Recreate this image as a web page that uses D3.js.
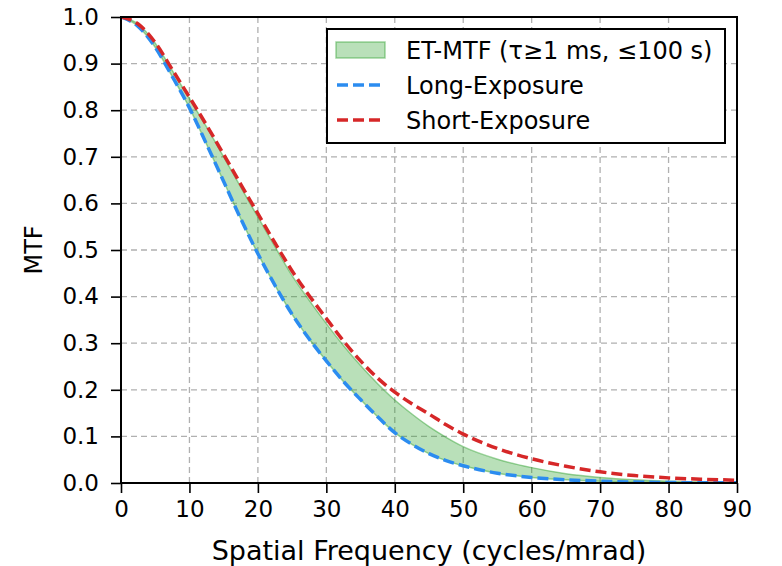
<!DOCTYPE html>
<html>
<head>
<meta charset="utf-8">
<script src="https://cdn.jsdelivr.net/npm/d3@7"></script>
<style>
  html, body { margin: 0; padding: 0; background: #fff; }
  svg { display: block; font-family: "DejaVu Sans", sans-serif; }
</style>
</head>
<body>
<svg id="chart" width="782" height="566"></svg>
<script>
// ---- data ----
const freq      = [0, 2.5, 5, 7.5, 10, 12.5, 15, 17.5, 20, 22.5, 25, 27.5, 30, 32.5, 35, 37.5, 40, 42.5, 45, 47.5, 50, 55, 60, 65, 70, 75, 80, 85, 90];
const longExp   = [1.0, 0.98, 0.935, 0.872, 0.805, 0.727, 0.647, 0.567, 0.492, 0.424, 0.362, 0.309, 0.262, 0.218, 0.179, 0.142, 0.108, 0.083, 0.063, 0.048, 0.037, 0.021, 0.012, 0.007, 0.004, 0.002, 0.001, 0.0006, 0.0003];
const shortExp  = [1.0, 0.985, 0.945, 0.887, 0.828, 0.768, 0.705, 0.641, 0.578, 0.515, 0.455, 0.402, 0.353, 0.305, 0.262, 0.225, 0.195, 0.170, 0.148, 0.125, 0.105, 0.074, 0.052, 0.036, 0.024, 0.016, 0.011, 0.008, 0.006];
const etUpper   = [1.0, 0.985, 0.944, 0.885, 0.825, 0.764, 0.700, 0.635, 0.571, 0.507, 0.445, 0.392, 0.342, 0.295, 0.252, 0.213, 0.178, 0.148, 0.121, 0.098, 0.078, 0.051, 0.033, 0.020, 0.012, 0.007, 0.004, 0.002, 0.001];
const etLower   = longExp;
const xTicks    = [0, 10, 20, 30, 40, 50, 60, 70, 80, 90];
const yTicks    = [0.0, 0.1, 0.2, 0.3, 0.4, 0.5, 0.6, 0.7, 0.8, 0.9, 1.0];
const legendLabels = ["ET-MTF (τ≥1 ms, ≤100 s)", "Long-Exposure", "Short-Exposure"];

// ---- layout ----
const svg = d3.select("#chart");
const L = 121, R = 737, T = 17, B = 483;
const x = d3.scaleLinear().domain([0, 90]).range([L, R]);
const y = d3.scaleLinear().domain([0, 1]).range([B, T]);

const blue = "#2b8cf0", red = "#d62728", green = "#2ca02c";

svg.append("defs").append("clipPath").attr("id", "clip")
  .append("rect").attr("x", L).attr("y", T).attr("width", R - L).attr("height", B - T);

// grid
const grid = svg.append("g").attr("stroke", "#b0b0b0").attr("stroke-width", 1.3).attr("stroke-dasharray", "6,4");
xTicks.forEach(t => grid.append("line").attr("x1", x(t)).attr("x2", x(t)).attr("y1", T).attr("y2", B));
yTicks.forEach(t => grid.append("line").attr("x1", L).attr("x2", R).attr("y1", y(t)).attr("y2", y(t)));

const pts = freq.map((f, i) => ({ f, lo: etLower[i], hi: etUpper[i], le: longExp[i], se: shortExp[i] }));
const plot = svg.append("g").attr("clip-path", "url(#clip)");

plot.append("path").datum(pts)
  .attr("d", d3.area().x(d => x(d.f)).y0(d => y(d.lo)).y1(d => y(d.hi)).curve(d3.curveMonotoneX))
  .attr("fill", green).attr("fill-opacity", 0.33)
  .attr("stroke", green).attr("stroke-opacity", 0.45).attr("stroke-width", 1.5);

plot.append("path").datum(pts)
  .attr("d", d3.line().x(d => x(d.f)).y(d => y(d.le)).curve(d3.curveMonotoneX))
  .attr("fill", "none").attr("stroke", blue).attr("stroke-width", 3.5).attr("stroke-dasharray", "11,5");

plot.append("path").datum(pts)
  .attr("d", d3.line().x(d => x(d.f)).y(d => y(d.se)).curve(d3.curveMonotoneX))
  .attr("fill", "none").attr("stroke", red).attr("stroke-width", 3.5).attr("stroke-dasharray", "11,5");

// axes
const xAxis = svg.append("g").attr("transform", `translate(0,${B})`)
  .call(d3.axisBottom(x).tickValues(xTicks).tickFormat(d3.format("d")).tickSize(10).tickPadding(8));
const yAxis = svg.append("g").attr("transform", `translate(${L},0)`)
  .call(d3.axisLeft(y).tickValues(yTicks).tickFormat(d3.format(".1f")).tickSize(10).tickPadding(12));
[xAxis, yAxis].forEach(a => {
  a.select(".domain").remove();
  a.selectAll("line").attr("stroke", "#000").attr("stroke-width", 1.6);
  a.selectAll("text").attr("fill", "#000").style("font-size", "23px").style("font-family", "DejaVu Sans");
});

// frame
svg.append("rect").attr("x", L).attr("y", T).attr("width", R - L).attr("height", B - T)
  .attr("fill", "none").attr("stroke", "#000").attr("stroke-width", 2);

// axis labels
svg.append("text").attr("x", 429).attr("y", 560).attr("text-anchor", "middle")
  .style("font-size", "27px").text("Spatial Frequency (cycles/mrad)");
svg.append("text").attr("transform", `translate(42,${(T + B) / 2}) rotate(-90)`).attr("text-anchor", "middle")
  .style("font-size", "24px").text("MTF");

// legend
const lg = svg.append("g");
lg.append("rect").attr("x", 327).attr("y", 29).attr("width", 398).attr("height", 114)
  .attr("fill", "#fff").attr("stroke", "#000").attr("stroke-width", 2);
const rows = [50, 85, 120];
lg.append("rect").attr("x", 336).attr("y", rows[0] - 8).attr("width", 49).attr("height", 16)
  .attr("fill", green).attr("fill-opacity", 0.33).attr("stroke", green).attr("stroke-opacity", 0.45).attr("stroke-width", 1.5);
[[blue, rows[1]], [red, rows[2]]].forEach(([c, yy]) => {
  lg.append("line").attr("x1", 337).attr("x2", 385).attr("y1", yy).attr("y2", yy)
    .attr("stroke", c).attr("stroke-width", 3.5).attr("stroke-dasharray", "11,5");
});
legendLabels.forEach((t, i) => {
  lg.append("text").attr("x", 406).attr("y", rows[i]).attr("dy", "0.36em")
    .style("font-size", "24px").text(t);
});
</script>
</body>
</html>
